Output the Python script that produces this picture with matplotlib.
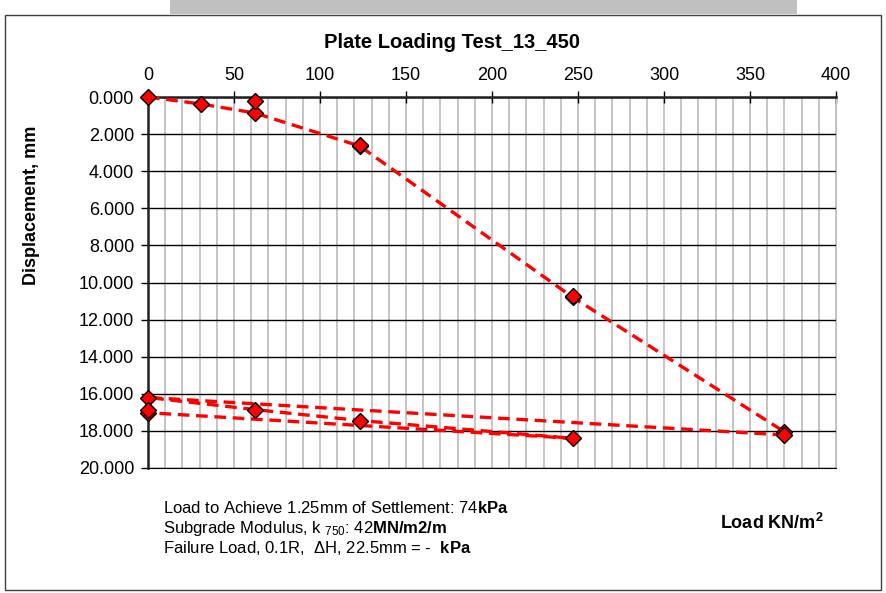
import matplotlib.pyplot as plt
from matplotlib.patches import Rectangle
from matplotlib.ticker import MultipleLocator

plt.rcParams['font.family'] = ['Liberation Sans', 'DejaVu Sans']
plt.rcParams['mathtext.fontset'] = 'custom'
plt.rcParams['mathtext.rm'] = 'Liberation Sans'
plt.rcParams['mathtext.it'] = 'Liberation Sans'
plt.rcParams['mathtext.bf'] = 'Liberation Sans:bold'

# load test sequence (load kN/m2, displacement mm)
load = [0, 31, 62, 123, 247, 370, 370, 0, 62, 123, 247, 0]
disp = [0.0, 0.38, 0.86, 2.64, 10.80, 18.05, 18.22, 16.20, 16.85, 17.44, 18.40, 17.02]

# extra readings shown as markers only
extra_load = [62, 123, 247, 0]
extra_disp = [0.22, 2.60, 10.75, 16.88]

title = 'Plate Loading Test_13_450'
xticks = [0, 50, 100, 150, 200, 250, 300, 350, 400]
yticks = [0, 2, 4, 6, 8, 10, 12, 14, 16, 18, 20]

fig = plt.figure(figsize=(8.86, 5.93), dpi=100)

# outer chart frame and clipped grey strip at the top
fig.patches.append(Rectangle((5 / 886, 3 / 593), 876 / 886, 575 / 593, transform=fig.transFigure,
                             fill=False, edgecolor='#404040', lw=1.0))
fig.patches.append(Rectangle((170 / 886, 579 / 593), 627 / 886, 14 / 593, transform=fig.transFigure,
                             facecolor='#c0c0c0', edgecolor='none'))

ax = fig.add_axes([148 / 886, 1 - 468 / 593, 688 / 886, 371 / 593])
ax.set_xlim(0, 400)
ax.set_ylim(20, 0)
ax.xaxis.tick_top()
ax.set_xticks(xticks)
ax.set_yticks(yticks)
ax.set_yticklabels(['%.3f' % v for v in yticks])
ax.xaxis.set_minor_locator(MultipleLocator(10))
ax.tick_params(axis='x', which='major', direction='inout', length=8, width=1, labelsize=13, pad=5)
ax.tick_params(axis='x', which='minor', length=0)
ax.tick_params(axis='y', which='major', direction='out', length=5, width=1, labelsize=13, pad=5)

ax.grid(axis='x', which='both', color='#c0c0c0', lw=1.3)
ax.grid(axis='y', which='major', color='black', lw=1.0)
ax.set_axisbelow(True)
for s in ['top', 'left']:
    ax.spines[s].set_color('#202020')
    ax.spines[s].set_linewidth(1.8)
ax.spines['bottom'].set_color('black')
ax.spines['right'].set_color('#c0c0c0')

ax.plot(load, disp, color='#ff0000', lw=2.4, dashes=(3.5, 2),
        marker='D', ms=8, mfc='#ff0000', mec='black', mew=1.0, clip_on=False, zorder=3)
ax.plot(extra_load, extra_disp, ls='none',
        marker='D', ms=8, mfc='#ff0000', mec='black', mew=1.0, clip_on=False, zorder=3)

fig.text(452 / 886, 1 - 42 / 593, title, ha='center', va='center', fontsize=14.5, fontweight='bold')
fig.text(32 / 886, 1 - 205 / 593, 'Displacement, mm', ha='center', va='center', rotation=90,
         fontsize=13, fontweight='bold')
fig.text(720 / 886, 1 - 523 / 593, 'Load KN/m$^\\mathbf{2}$', ha='left', va='center',
         fontsize=13, fontweight='bold')

fig.text(163 / 886, 1 - 508 / 593, 'Load to Achieve 1.25mm of Settlement: 74$\\mathbf{kPa}$',
         ha='left', va='center', fontsize=12)
fig.text(163 / 886, 1 - 528 / 593, 'Subgrade Modulus, k $_{750}$: 42$\\mathbf{MN/m2/m}$',
         ha='left', va='center', fontsize=12)
fig.text(163 / 886, 1 - 548 / 593, 'Failure Load, 0.1R,  $\\Delta$H, 22.5mm = -  $\\mathbf{kPa}$',
         ha='left', va='center', fontsize=12)

fig.savefig('out.png', dpi=100)
